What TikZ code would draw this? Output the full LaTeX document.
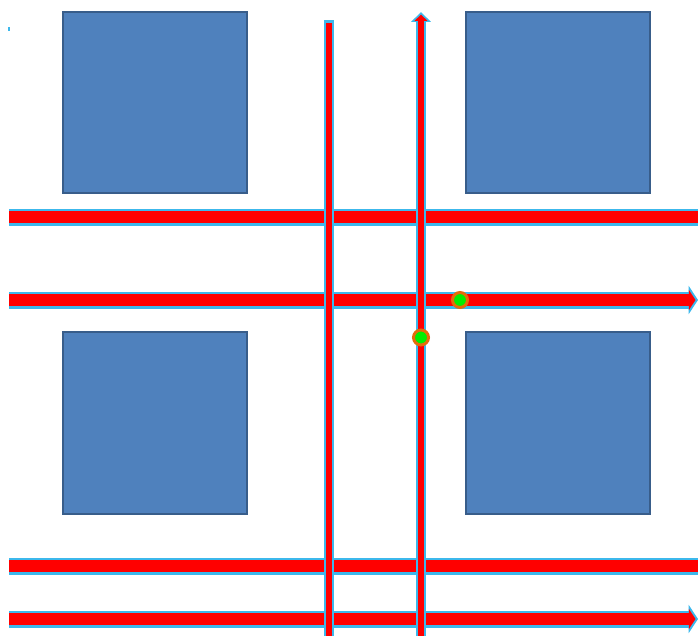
\documentclass[tikz,border=0pt]{standalone}
\definecolor{gBlockFill}{HTML}{4F81BD}
\definecolor{gBlockEdge}{HTML}{385D8A}
\definecolor{gRail}{HTML}{FF0000}
\definecolor{gRailEdge}{HTML}{3CB8EC}
\definecolor{gJointFill}{HTML}{00EE00}
\definecolor{gJointEdge}{HTML}{E46C0A}
\usetikzlibrary{arrows.meta}
\tikzset{
  block/.style={draw=gBlockEdge, fill=gBlockFill, line width=0.04cm, minimum width=3.68cm, minimum height=3.64cm, inner sep=0pt},
  hedge/.style={draw=gRailEdge, line width=0.34cm},
  hcore/.style={draw=gRail, line width=0.24cm, shorten >=0.05cm},
  vedge/.style={draw=gRailEdge, line width=0.22cm},
  vcore/.style={draw=gRail, line width=0.14cm, shorten >=0.05cm},
  joint/.style={circle, draw=gJointEdge, fill=gJointFill, line width=0.06cm, minimum size=0.3cm, inner sep=0pt},
  htip/.style={-{Triangle[length=0pt 0.55, width=0pt 1.65]}},
  vtip/.style={-{Triangle[length=0pt 0.9, width=0pt 1.75]}}
}
\newcommand{\rail}[4]{%
 \draw[#1edge, #4] (#2) -- (#3);
 \draw[#1core, #4] (#2) -- (#3);}

\begin{document}
\begin{tikzpicture}[x=0.02cm, y=-0.02cm]
\useasboundingbox (0,0) rectangle (698,636);
% blocks
\node[block] (bTL) at (155,102.5) {};
\node[block] (bTR) at (558,102.5) {};
\node[block] (bBL) at (155,423) {};
\node[block] (bBR) at (558,423) {};
% rail ends
\coordinate (h1s) at (9,217);  \coordinate (h1e) at (700,217);
\coordinate (h2s) at (9,300);  \coordinate (h2e) at (698,300);
\coordinate (h3s) at (9,566);  \coordinate (h3e) at (700,566);
\coordinate (h4s) at (9,619);  \coordinate (h4e) at (698,619);
\coordinate (v1s) at (329,640); \coordinate (v1e) at (329,20);
\coordinate (v2s) at (421,640); \coordinate (v2e) at (421,12);
\fill[gRailEdge] (8,27) rectangle (10,31);
% horizontal rails
\rail{h}{h1s}{h1e}{}
\rail{h}{h2s}{h2e}{htip}
\rail{h}{h3s}{h3e}{}
\rail{h}{h4s}{h4e}{htip}
% vertical rails
\rail{v}{v1s}{v1e}{}
\rail{v}{v2s}{v2e}{vtip}
% joints
\node[joint] (jA) at (460,300) {};
\node[joint] (jB) at (421,337.5) {};
\end{tikzpicture}
\end{document}
